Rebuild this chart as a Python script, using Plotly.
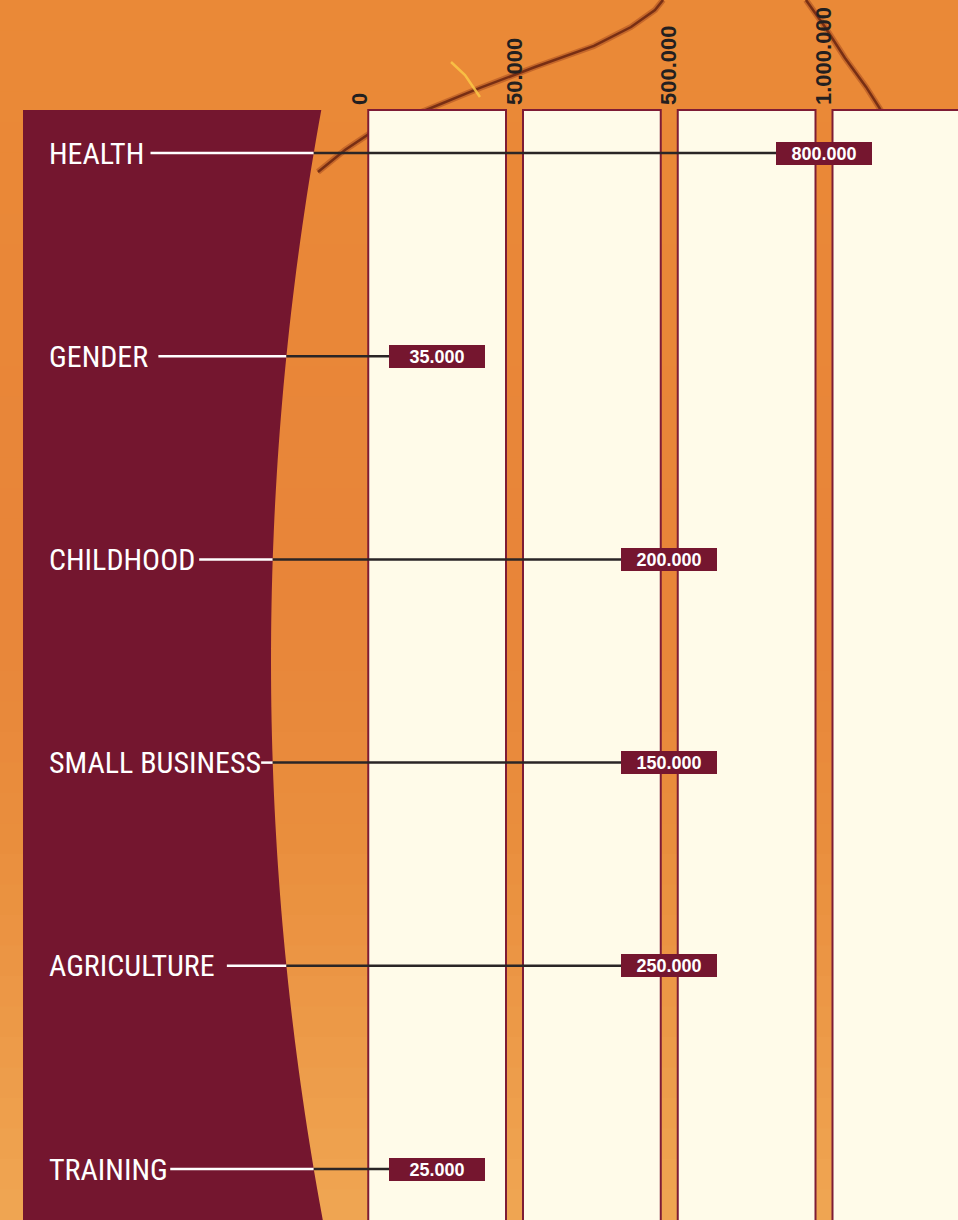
import numpy as np
import plotly.graph_objects as go

# ---------------- data ----------------
categories = ["HEALTH", "GENDER", "CHILDHOOD", "SMALL BUSINESS", "AGRICULTURE", "TRAINING"]
values = [800000, 35000, 200000, 150000, 250000, 25000]
tick_values = [0, 50000, 500000, 1000000]


def fmt(v):
    return f"{v:,}".replace(",", ".")


tick_labels = [fmt(v) for v in tick_values]

# ---------------- layout constants ----------------
W, H = 958, 1220
TOP = 106                      # top margin (px)
X0_PX, BAND_PX = 359.75, 154.75  # pixel position of first tick, pixel width of one band
Y0_PX, ROW_PX = 153.0, 203.2     # pixel position of first category row, row spacing

MAROON = "#74162f"
BOX = "#75162f"
CREAM = "#fffbe9"
COL_BORDER = "#7e1c35"
DARK = "#2a2526"
TXT = "#231f20"


def xu(p):  # pixel -> x axis units (band units, tick k at k)
    return (p - X0_PX) / BAND_PX


def yu(p):  # pixel -> y axis units (row index)
    return (p - Y0_PX) / ROW_PX


def edge_px(i):  # right (curved) edge of maroon panel at row position i, in px
    return 271 + 6.84 * (i - (len(categories) - 1) / 2) ** 2


def box_pos(v):
    # value box sits in the band it belongs to: mid band for the first band,
    # else on the upper tick of its interval
    if v < tick_values[1]:
        return 0.5
    for k, t in enumerate(tick_values):
        if v <= t:
            return float(k)
    return float(len(tick_values) - 1)


CHAR_EM = {"A": .667, "B": .667, "C": .722, "D": .722, "E": .667, "F": .611, "G": .778,
           "H": .722, "I": .278, "K": .667, "L": .556, "M": .833, "N": .722, "O": .778,
           "P": .667, "R": .722, "S": .667, "T": .611, "U": .722, " ": .278}
LABEL_SIZE = 30


def text_px(s, size):
    return sum(CHAR_EM.get(c, .6) for c in s) * size * 0.79


fig = go.Figure()
shapes = []


# ---------------- background (paper coords) ----------------
def yp(p):
    return (H - p) / (H - TOP)


def hex2rgb(h):
    h = h.lstrip("#")
    return np.array([int(h[i:i + 2], 16) for i in (0, 2, 4)], float)


stops = [(0, "#eb8a37"), (600, "#e8853a"), (850, "#ea8f3e"), (1220, "#f0a653")]
nb = 40
for b in range(nb):
    y0, y1 = b * H / nb, (b + 1) * H / nb
    yc = (y0 + y1) / 2
    for (a, ca), (c, cc) in zip(stops[:-1], stops[1:]):
        if a <= yc <= c:
            t = (yc - a) / (c - a)
            col = hex2rgb(ca) * (1 - t) + hex2rgb(cc) * t
            break
    shapes.append(dict(type="rect", xref="paper", yref="paper", x0=-0.01, x1=1.01,
                       y0=yp(y1 + 1), y1=yp(y0), line=dict(width=0), layer="below",
                       fillcolor="rgb(%d,%d,%d)" % tuple(col.astype(int))))


def ppath(pts):
    return "M " + " L ".join(f"{x / W:.4f},{yp(y):.4f}" for x, y in pts)


crack1 = [(318, 172), (345, 150), (372, 132), (426, 110), (480, 88), (535, 67),
          (594, 46), (631, 27), (655, 10), (663, 0)]
crack2 = [(806, 0), (825, 27), (845, 58), (866, 87), (882, 112)]
for c in (crack1, crack2):
    shapes.append(dict(type="path", xref="paper", yref="paper", path=ppath(c),
                       line=dict(color="rgba(160,70,30,0.5)", width=6), layer="below"))
    shapes.append(dict(type="path", xref="paper", yref="paper", path=ppath(c),
                       line=dict(color="rgba(100,32,14,0.8)", width=2.5), layer="below"))
shapes.append(dict(type="path", xref="paper", yref="paper",
                   path=ppath([(451, 62), (465, 75), (480, 97)]),
                   line=dict(color="rgba(250,200,70,0.85)", width=2.5), layer="below"))

# ---------------- columns ----------------
gap = 8.5 / BAND_PX
for k in range(len(tick_values)):
    shapes.append(dict(type="rect", xref="x", yref="y", x0=k + gap, x1=k + 1 - gap,
                       y0=yu(110), y1=yu(1260), fillcolor=CREAM,
                       line=dict(color=COL_BORDER, width=2), layer="below"))

# ---------------- maroon panel ----------------
ys = np.linspace(yu(110), yu(1260), 80)
pts = [(xu(23), yu(110))] + [(xu(edge_px(y)), y) for y in ys] + [(xu(23), yu(1260))]
path = "M " + " L ".join(f"{x:.4f},{y:.4f}" for x, y in pts) + " Z"
shapes.append(dict(type="path", xref="x", yref="y", path=path, fillcolor=MAROON,
                   line=dict(width=0), layer="below"))

# ---------------- connector lines ----------------
rows = list(range(len(categories)))
wx, wy, dx, dy = [], [], [], []
for i, (cat, v) in enumerate(zip(categories, values)):
    e = xu(edge_px(i))
    start = xu(49 + text_px(cat, LABEL_SIZE) + 8)
    wx += [start, e, None]
    wy += [i, i, None]
    dx += [e, box_pos(v) - 48 / BAND_PX, None]
    dy += [i, i, None]

fig.add_trace(go.Scatter(x=wx, y=wy, mode="lines", line=dict(color="white", width=2.5),
                         hoverinfo="skip", showlegend=False))
fig.add_trace(go.Scatter(x=dx, y=dy, mode="lines", line=dict(color=DARK, width=2.5),
                         hoverinfo="skip", showlegend=False))
fig.add_trace(go.Scatter(x=[box_pos(v) for v in values], y=rows, mode="markers",
                         marker=dict(size=1, opacity=0), showlegend=False,
                         text=[f"{c}: {fmt(v)}" for c, v in zip(categories, values)],
                         hoverinfo="text"))

# ---------------- annotations ----------------
annotations = []
for i, (cat, v) in enumerate(zip(categories, values)):
    annotations.append(dict(x=47 / W, xref="paper", y=i, yref="y", text=cat,
                            xanchor="left", yanchor="middle", showarrow=False,
                            font=dict(family="Liberation Sans Narrow, Arial Narrow, Roboto Condensed, sans-serif",
                                      size=LABEL_SIZE, color="white")))
    annotations.append(dict(x=box_pos(v), xref="x", y=i, yref="y", text=fmt(v),
                            showarrow=False, bgcolor=BOX, width=96, height=23,
                            borderpad=0, borderwidth=0, align="center", valign="middle",
                            font=dict(family="Liberation Sans, Arial, sans-serif", size=18,
                                      color="white", weight="bold")))

fig.update_layout(
    width=W, height=H,
    margin=dict(l=0, r=0, t=TOP, b=0, pad=0),
    paper_bgcolor="#e98a38",
    plot_bgcolor="rgba(0,0,0,0)",
    shapes=shapes,
    annotations=annotations,
    showlegend=False,
    xaxis=dict(range=[xu(0), xu(W)], side="top", tickmode="array",
               tickvals=list(range(len(tick_values))), ticktext=tick_labels,
               tickangle=-90, ticks="", showgrid=False, zeroline=False, showline=False,
               tickfont=dict(family="Liberation Sans, Arial, sans-serif", size=22,
                             color=TXT, weight="bold"),
               fixedrange=True),
    yaxis=dict(range=[yu(H), yu(TOP)], showticklabels=False, showgrid=False,
               zeroline=False, showline=False, ticks="", fixedrange=True),
)

fig.write_html("out.html", config={"displayModeBar": False},
               post_script="document.body.style.margin='0';document.body.style.padding='0';")
